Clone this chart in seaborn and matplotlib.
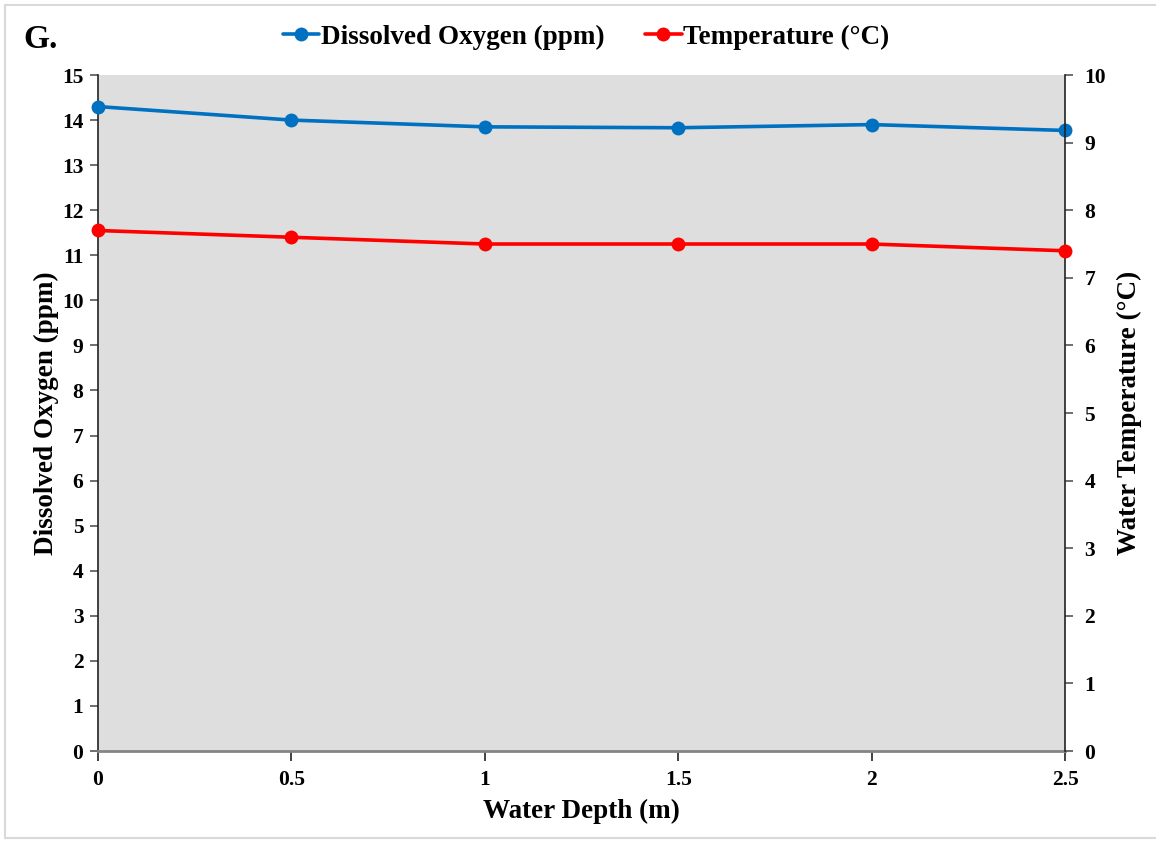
import matplotlib
matplotlib.use("Agg")
import matplotlib.pyplot as plt
import seaborn as sns
from matplotlib.lines import Line2D

depth = [0, 0.5, 1, 1.5, 2, 2.5]
dissolved_oxygen = [14.3, 14.0, 13.85, 13.83, 13.9, 13.77]
temperature = [7.7, 7.6, 7.5, 7.5, 7.5, 7.4]

do_ticks = list(range(0, 16))
temp_ticks = list(range(0, 11))
depth_ticks = [0, 0.5, 1, 1.5, 2, 2.5]
depth_labels = ["0", "0.5", "1", "1.5", "2", "2.5"]

blue = "#0070C0"
red = "#FF0000"

sns.set_style("white")
plt.rcParams['font.family'] = ['Liberation Serif', 'DejaVu Serif']
plt.rcParams['font.weight'] = 'bold'
plt.rcParams['text.color'] = 'black'
plt.rcParams['axes.labelcolor'] = 'black'
plt.rcParams['xtick.color'] = 'black'
plt.rcParams['ytick.color'] = 'black'

fig = plt.figure(figsize=(11.56, 8.41), dpi=100)
ax = fig.add_axes([0.0848, 0.107, 0.8365, 0.8038])
ax.set_facecolor("#dedede")

sns.lineplot(x=depth, y=dissolved_oxygen, ax=ax, color=blue, linewidth=2.6,
             marker="o", markersize=10, markeredgewidth=0, zorder=3, clip_on=False)
ax.set_xlim(0, 2.5)
ax.set_ylim(0, 15)
ax.set_yticks(do_ticks)
ax.set_xticks(depth_ticks)
ax.set_xticklabels(depth_labels)

ax2 = ax.twinx()
sns.lineplot(x=depth, y=temperature, ax=ax2, color=red, linewidth=2.6,
             marker="o", markersize=10, markeredgewidth=0, zorder=3, clip_on=False)
ax2.set_ylim(0, 10)
ax2.set_yticks(temp_ticks)

for a in (ax, ax2):
    for s in a.spines.values():
        s.set_visible(False)
ax.spines['left'].set_visible(True)
ax.spines['left'].set_color('#222222')
ax.spines['left'].set_linewidth(1.2)
ax.spines['bottom'].set_visible(True)
ax.spines['bottom'].set_color('#858585')
ax.spines['bottom'].set_linewidth(2)
ax2.spines['right'].set_visible(True)
ax2.spines['right'].set_color('#222222')
ax2.spines['right'].set_linewidth(1.2)

ax.tick_params(axis='y', direction='out', length=6, width=1.2, color='#555555',
               labelsize=15.5, pad=4.5, left=True, labelcolor='black')
ax.tick_params(axis='x', direction='out', length=7, width=1.2, color='#222222',
               labelsize=15.5, pad=7, bottom=True, labelcolor='black')
ax2.tick_params(axis='y', direction='out', length=6, width=1.2, color='#555555',
                labelsize=15.5, pad=8, right=True, labelcolor='black')

ax.set_xlabel("Water Depth (m)", fontsize=19.5, fontweight='bold', labelpad=6, color='black')
ax.set_ylabel("Dissolved Oxygen (ppm)", fontsize=19.5, fontweight='bold', labelpad=2, color='black')
ax2.set_ylabel("Water Temperature (°C)", fontsize=19.5, fontweight='bold', labelpad=8, color='black')

handles = [
    Line2D([], [], color=blue, linewidth=2.6, marker="o", markersize=10, markeredgewidth=0),
    Line2D([], [], color=red, linewidth=2.6, marker="o", markersize=10, markeredgewidth=0),
]
fig.legend(handles, ["Dissolved Oxygen (ppm)", "Temperature (°C)"],
           loc="center", bbox_to_anchor=(0.507, 0.956), ncol=2, frameon=False,
           prop={'size': 19.5, 'weight': 'bold'}, handlelength=1.35,
           handletextpad=0.05, columnspacing=1.5, labelcolor='black')

fig.text(0.02, 0.953, "G.", fontsize=24, fontweight='bold', va='center', color='black')

# light frame around the figure
fig.add_artist(Line2D([0.004, 0.004], [0.003, 0.994], transform=fig.transFigure,
                      color='#d9d9d9', linewidth=1.5))
fig.add_artist(Line2D([0.004, 1.0], [0.994, 0.994], transform=fig.transFigure,
                      color='#d9d9d9', linewidth=1.5))
fig.add_artist(Line2D([0.004, 1.0], [0.003, 0.003], transform=fig.transFigure,
                      color='#d9d9d9', linewidth=1.5))

fig.savefig("out.png", dpi=100)
